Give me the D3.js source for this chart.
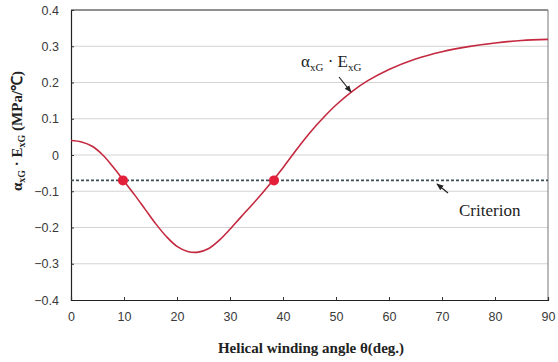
<!DOCTYPE html>
<html><head><meta charset="utf-8">
<script src="https://cdn.jsdelivr.net/npm/d3@7"></script>
<style>body{margin:0;background:#fff}</style>
</head><body>
<svg id="c" width="558" height="362"></svg>
<script>
const theta = [0,2,4,6,8,10,12,14,16,18,20,22,24,26,28,30,32,34,36,38,40,42,44,46,48,50,53,56,60,65,70,75,80,85,90];
const value = [0.04,0.036,0.024,0.0,-0.034,-0.072,-0.11,-0.15,-0.19,-0.225,-0.252,-0.266,-0.268,-0.258,-0.235,-0.205,-0.172,-0.14,-0.107,-0.072,-0.035,0.004,0.042,0.077,0.109,0.138,0.175,0.205,0.236,0.265,0.285,0.299,0.309,0.316,0.319];
const criterion = -0.07;
const crossings = [9.8, 38.3];
const xTicks = [0,10,20,30,40,50,60,70,80,90];
const yTicks = [-0.4,-0.3,-0.2,-0.1,0,0.1,0.2,0.3,0.4];

const svg = d3.select("#c");
const L=71, R=548, T=10, B=300;
const x = d3.scaleLinear().domain([0,90]).range([L,R]);
const y = d3.scaleLinear().domain([-0.4,0.4]).range([B,T]);

// grid
svg.append("g").selectAll("line").data(yTicks.filter(d=>d>-0.4&&d<0.4)).join("line")
  .attr("x1",L).attr("x2",R).attr("y1",d=>y(d)).attr("y2",d=>y(d))
  .attr("stroke","#d4d4d4").attr("stroke-width",1);

// frame
svg.append("line").attr("x1",L).attr("x2",R).attr("y1",T).attr("y2",T).attr("stroke","#222").attr("stroke-width",1);
svg.append("line").attr("x1",R).attr("x2",R).attr("y1",T).attr("y2",B).attr("stroke","#777").attr("stroke-width",1);

// axes
const yAxis = d3.axisLeft(y).tickValues(yTicks).tickSize(-3).tickPadding(12)
  .tickFormat(d=> d===0 ? "0" : d3.format(".1f")(d));
const gy = svg.append("g").attr("transform",`translate(${L},0)`).call(yAxis);
const xAxis = d3.axisBottom(x).tickValues(xTicks).tickSize(-3).tickPadding(12);
const gx = svg.append("g").attr("transform",`translate(0,${B})`).call(xAxis);
[gy,gx].forEach(g=>{
  g.select(".domain").attr("stroke","#222").attr("stroke-width",1.2);
  g.selectAll(".tick line").attr("stroke","#333");
  g.selectAll("text").attr("font-family","Liberation Sans, Arial, sans-serif").attr("font-size",12.5).attr("fill","#3a3a3a");
});

// criterion
svg.append("line").attr("x1",L).attr("x2",R).attr("y1",y(criterion)).attr("y2",y(criterion))
  .attr("stroke","#3d4f57").attr("stroke-width",1.6).attr("stroke-dasharray","3,2");

// curve
const line = d3.line().x((d,i)=>x(theta[i])).y(d=>y(d)).curve(d3.curveCatmullRom.alpha(0.5));
svg.append("path").datum(value).attr("d",line).attr("fill","none").attr("stroke","#c4293f").attr("stroke-width",1.6);

// points
svg.append("g").selectAll("circle").data(crossings).join("circle")
  .attr("cx",d=>x(d)).attr("cy",y(criterion)).attr("r",5).attr("fill","#e41f3a");

// annotations
const serif = "Liberation Serif, Times New Roman, serif";
const t1 = svg.append("text").attr("x",301).attr("y",67).attr("font-family",serif).attr("font-size",17).attr("fill","#222");
t1.append("tspan").text("α");
t1.append("tspan").attr("font-size",11).attr("dy",4).text("xG");
t1.append("tspan").attr("dy",-4).text(" · E");
t1.append("tspan").attr("font-size",11).attr("dy",4).text("xG");

svg.append("defs").append("marker").attr("id","ah").attr("viewBox","0 0 10 10").attr("refX",9).attr("refY",5)
  .attr("markerWidth",6).attr("markerHeight",6).attr("orient","auto")
  .append("path").attr("d","M0,1 L10,5 L0,9 z").attr("fill","#222");
svg.append("line").attr("x1",339).attr("y1",77).attr("x2",351).attr("y2",92).attr("stroke","#222").attr("stroke-width",1.2).attr("marker-end","url(#ah)");

svg.append("text").attr("x",459).attr("y",216).attr("font-family",serif).attr("font-size",17).attr("fill","#222").text("Criterion");
svg.append("line").attr("x1",448).attr("y1",193).attr("x2",437).attr("y2",184).attr("stroke","#222").attr("stroke-width",1.2).attr("marker-end","url(#ah)");

// axis titles
svg.append("text").attr("x",311).attr("y",353).attr("text-anchor","middle").attr("font-family",serif)
  .attr("font-weight","bold").attr("font-size",15).attr("fill","#222").text("Helical winding angle  θ(deg.)");
const yt = svg.append("text").attr("transform","translate(22,131) rotate(-90)").attr("text-anchor","middle")
  .attr("font-family",serif).attr("font-weight","bold").attr("font-size",15).attr("fill","#222");
yt.append("tspan").text("α");
yt.append("tspan").attr("font-size",10).attr("dy",3).text("xG");
yt.append("tspan").attr("dy",-3).text(" · E");
yt.append("tspan").attr("font-size",10).attr("dy",3).text("xG");
yt.append("tspan").attr("dy",-3).text("  (MPa/℃)");
</script>
</body></html>
